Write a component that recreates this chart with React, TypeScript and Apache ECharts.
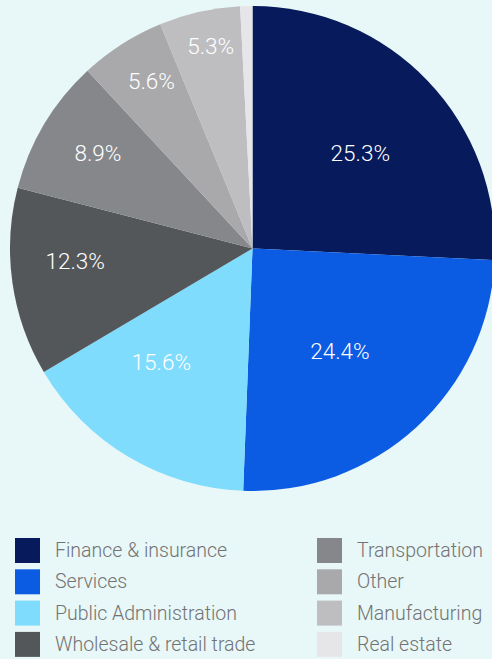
import React, { useEffect, useRef } from "react";
import * as echarts from "echarts";

const categories = [
  "Finance & insurance",
  "Services",
  "Public Administration",
  "Wholesale & retail trade",
  "Transportation",
  "Other",
  "Manufacturing",
  "Real estate",
];
const values = [25.3, 24.4, 15.6, 12.3, 8.9, 5.6, 5.3, 0.8];
const labelTexts = ["25.3%", "24.4%", "15.6%", "12.3%", "8.9%", "5.6%", "5.3%", ""];
const colors = ["#071a5b", "#0b5be3", "#7fdcfd", "#54575a", "#86878b", "#a9a9ac", "#bebec1", "#e6e6e8"];
const leftLegend = categories.slice(0, 4);
const rightLegend = categories.slice(4);

// label placement styling (fraction of radius, angle nudge in degrees)
const labelRadius = [0.595, 0.555, 0.6, 0.733, 0.75, 0.806, 0.854, 0.8];
const labelNudge = [2, 2, 8, 4, 1, 1.5, 1, 0];

const CX = 252.5;
const CY = 248.5;
const R = 242.5;

export default function App() {
  const ref = useRef<HTMLDivElement>(null);
  useEffect(() => {
    if (!ref.current) return;
    const chart = echarts.init(ref.current, null, { renderer: "svg" });
    const total = values.reduce((a, b) => a + b, 0);
    const mids: number[] = [];
    let cum = 0;
    values.forEach((v) => {
      mids.push(((cum + v / 2) / total) * 360);
      cum += v;
    });
    const legendCommon = {
      orient: "vertical" as const,
      itemWidth: 25,
      itemHeight: 25,
      itemGap: 6.3,
      padding: 0,
      height: 125,
      icon: "rect",
      textStyle: {
        fontFamily: "Roboto",
        fontWeight: 300,
        fontSize: 19.5,
        color: "#737373",
        padding: [2, 0, 0, 10],
      },
    };
    chart.setOption({
      animation: false,
      backgroundColor: "#e8f7f7",
      color: colors,
      legend: [
        { ...legendCommon, left: 15, top: 538, data: leftLegend },
        { ...legendCommon, left: 317, top: 538, data: rightLegend },
      ],
      series: [
        {
          type: "pie",
          center: [CX, CY],
          radius: R,
          startAngle: 90,
          clockwise: true,
          label: {
            show: true,
            position: "inside",
            color: "#ffffff",
            fontFamily: "Roboto",
            fontWeight: 300,
            fontSize: 22.5,
            formatter: (p: any) => labelTexts[p.dataIndex],
          },
          labelLine: { show: false },
          labelLayout: (p: any) => {
            const i = p.dataIndex;
            const a = ((mids[i] + labelNudge[i]) * Math.PI) / 180;
            const r = R * labelRadius[i];
            return {
              x: CX + r * Math.sin(a),
              y: CY - r * Math.cos(a),
              align: "center",
              verticalAlign: "middle",
            };
          },
          itemStyle: { borderWidth: 0 },
          emphasis: { disabled: true },
          data: categories.map((name, i) => ({
            name,
            value: values[i],
            label: labelTexts[i] ? undefined : { show: false },
          })),
        },
      ],
    });
    return () => chart.dispose();
  }, []);
  return (
    <div
      ref={ref}
      style={{ position: "absolute", left: 0, top: 0, width: 492, height: 659 }}
    />
  );
}
